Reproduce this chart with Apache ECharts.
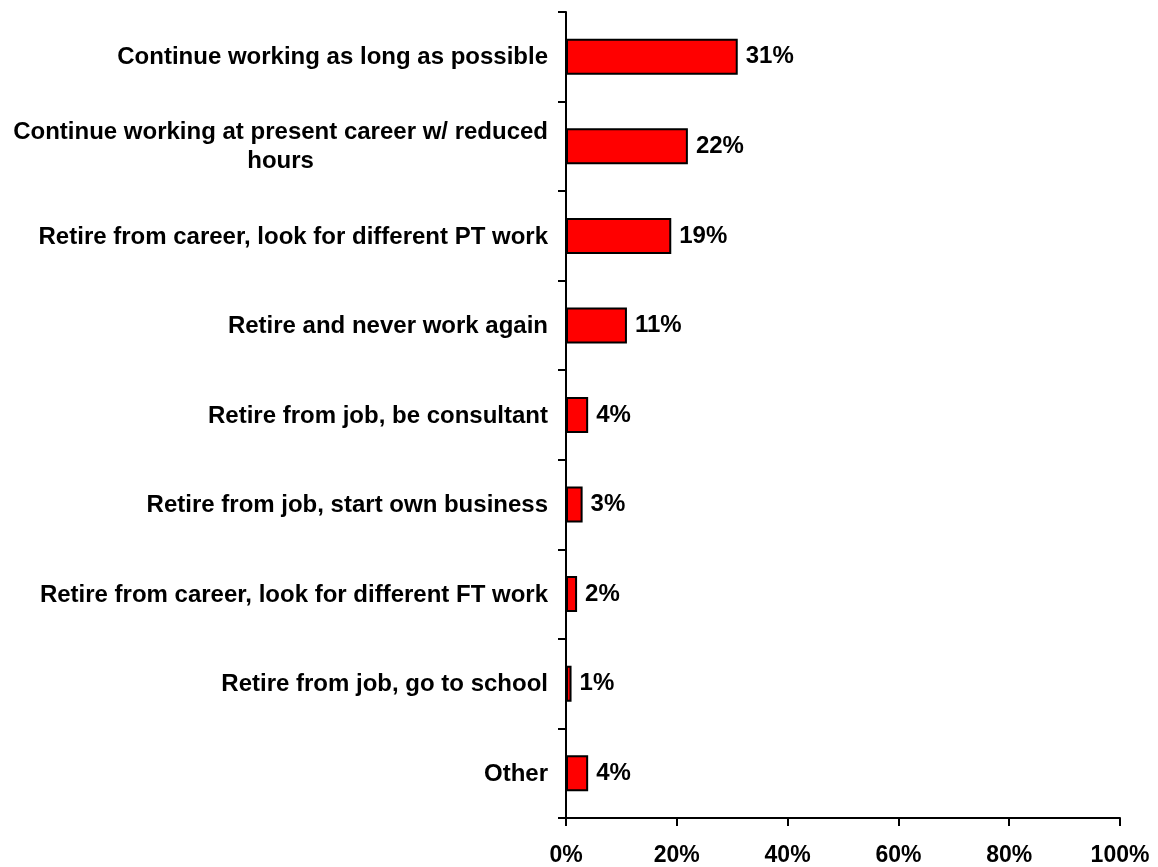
<!DOCTYPE html>
<html>
<head>
<meta charset="utf-8">
<script src="https://cdn.jsdelivr.net/npm/echarts@6/dist/echarts.min.js"></script>
<style>
  html, body { margin: 0; padding: 0; background: #fff; }
  #chart { width: 1158px; height: 867px; }
</style>
</head>
<body>
<div id="chart"></div>
<script>
// Retirement plans, share of respondents (%)
const categories = [
  'Continue working as long as possible',
  'Continue working at present career w/ reduced\nhours',
  'Retire from career, look for different PT work',
  'Retire and never work again',
  'Retire from job, be consultant',
  'Retire from job, start own business',
  'Retire from career, look for different FT work',
  'Retire from job, go to school',
  'Other'
];
const shares = [31, 22, 19, 11, 4, 3, 2, 1, 4];
const xTicks = [0, 20, 40, 60, 80, 100];

const FONT = '"Liberation Sans", Arial, sans-serif';
const chart = echarts.init(document.getElementById('chart'));

chart.setOption({
  backgroundColor: '#ffffff',
  animation: false,
  grid: { left: 566, right: 38, top: 12, bottom: 48, containLabel: false },
  xAxis: {
    type: 'value',
    min: xTicks[0],
    max: xTicks[xTicks.length - 1],
    interval: xTicks[1] - xTicks[0],
    splitLine: { show: false },
    axisLine: { show: true, lineStyle: { color: '#000', width: 2 } },
    axisTick: { show: true, inside: false, length: 8, lineStyle: { color: '#000', width: 2 } },
    axisLabel: {
      margin: 26,
      color: '#000',
      fontFamily: FONT,
      fontWeight: 'bold',
      fontSize: 23,
      formatter: v => v + '%'
    }
  },
  yAxis: {
    type: 'category',
    data: categories,
    inverse: true,
    axisLine: { show: true, lineStyle: { color: '#000', width: 2 } },
    axisTick: { show: true, inside: false, length: 8, lineStyle: { color: '#000', width: 2 } },
    axisLabel: {
      margin: 18,
      color: '#000',
      fontFamily: FONT,
      fontWeight: 'bold',
      fontSize: 24,
      lineHeight: 29,
      formatter: v => v.split('\n').map(s => '{c|' + s + '}').join('\n'),
      rich: {
        c: {
          align: 'center',
          color: '#000',
          fontFamily: FONT,
          fontWeight: 'bold',
          fontSize: 24,
          lineHeight: 29,
          padding: [2, 0, 0, 0]
        }
      }
    }
  },
  series: [{
    type: 'bar',
    data: shares,
    barWidth: 36,
    itemStyle: { color: '#ff0000', borderColor: '#000', borderWidth: 2 },
    label: {
      show: true,
      position: 'right',
      distance: 8,
      color: '#000',
      fontFamily: FONT,
      fontWeight: 'bold',
      fontSize: 24,
      formatter: p => p.value + '%'
    }
  }]
});
</script>
</body>
</html>
